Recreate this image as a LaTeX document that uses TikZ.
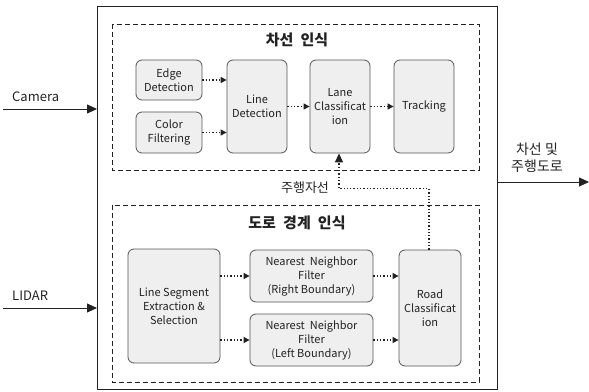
\documentclass[tikz,border=0pt]{standalone}
\usepackage{fontspec}
\setmainfont{Noto Sans CJK KR}
\usetikzlibrary{arrows.meta}
\definecolor{boxfill}{HTML}{EFEFEF}
\definecolor{boxline}{HTML}{555555}
\definecolor{ink}{HTML}{222222}
\begin{document}
\begin{tikzpicture}[x=1pt,y=-1pt,
  proc/.style={draw=boxline, fill=boxfill, rounded corners=6pt, line width=0.8pt,
    align=center, inner sep=1pt, text=ink, font=\fontsize{11}{14}\selectfont},
  group/.style={draw=ink, line width=0.8pt, dash pattern=on 5pt off 3pt},
  flow/.style={draw=ink, line width=1.3pt, dotted, -{Triangle[length=6pt,width=6pt]}},
  feed/.style={draw=ink, line width=1.3pt, dotted, -{Triangle[length=9pt,width=8pt]}},
  io/.style={draw=ink, line width=0.8pt, -{Triangle[length=10pt,width=9pt]}},
  lbl/.style={text=ink, font=\fontsize{13}{16}\selectfont, align=center, inner sep=0pt},
  ttl/.style={text=ink, font=\bfseries\fontsize{15}{18}\selectfont, inner sep=0pt}]
\useasboundingbox (0,0) rectangle (589,391);

% outer system frame
\draw[ink, line width=0.8pt] (97,6) rectangle (497,389);
\coordinate (fl) at (97,6);
\coordinate (fr) at (497,6);

% group frames
\draw[group] (112,24) rectangle (479,170);
\draw[group] (112,205) rectangle (479,382);
\node[ttl] at (297,40) {차선\hspace{0.25em} 인식};
\node[ttl] at (297,223) {도로\hspace{0.25em} 경계\hspace{0.25em} 인식};

% lane branch
\node[proc, minimum width=66pt, minimum height=40pt] (edge) at (169,80) {Edge\\Detection};
\node[proc, minimum width=66pt, minimum height=41pt] (color) at (169,132.5) {Color\\Filtering};
\node[proc, minimum width=60pt, minimum height=93pt] (ldet) at (257,106.5) {Line\\Detection};
\node[proc, minimum width=60pt, minimum height=93pt] (lane) at (340,106.5) {Lane\\Classificat\\ion};
\node[proc, minimum width=60pt, minimum height=93pt] (track) at (424,106.5) {Tracking};

% road branch
\node[proc, minimum width=92pt, minimum height=114pt] (seg) at (174,306) {Line Segment\\Extraction \&\\Selection};
\node[proc, minimum width=123pt, minimum height=52pt] (nnr) at (311.5,276) {Nearest~~Neighbor\\Filter\\(Right Boundary)};
\node[proc, minimum width=123pt, minimum height=52pt] (nnl) at (311.5,340) {Nearest~~Neighbor\\Filter\\(Left Boundary)};
\node[proc, minimum width=62pt, minimum height=116pt] (road) at (430,308) {Road\\Classificat\\ion};

% dotted data flow
\draw[flow] (edge.east) -- (edge -| ldet.west);
\draw[flow] (color.east) -- (color -| ldet.west);
\draw[flow] (ldet.east) -- (lane.west);
\draw[flow] (lane.east) -- (track.west);
\draw[flow] (seg.east |- nnr) -- (nnr.west);
\draw[flow] (seg.east |- nnl) -- (nnl.west);
\draw[flow] (nnr.east) -- (nnr -| road.west);
\draw[flow] (nnl.east) -- (nnl -| road.west);
\draw[feed] ([xshift=-1pt]road.north) -- ++(0,-61) -| ([xshift=-1pt]lane.south);
\node[lbl] at (305,188) {주행자선};

% sensor inputs and output
\coordinate (cam) at (3,109);
\coordinate (lid) at (3,308);
\coordinate (out) at (589,182);
\draw[io] (cam) -- (cam -| fl);
\draw[io] (lid) -- (lid -| fl);
\draw[io] (out -| fr) -- (out);
\node[lbl, anchor=west] at (12,97) {Camera};
\node[lbl, anchor=west] at (12,296) {LIDAR};
\node[lbl, font=\fontsize{14}{17}\selectfont] at (537,158) {차선 및\\주행도로};
\end{tikzpicture}
\end{document}
